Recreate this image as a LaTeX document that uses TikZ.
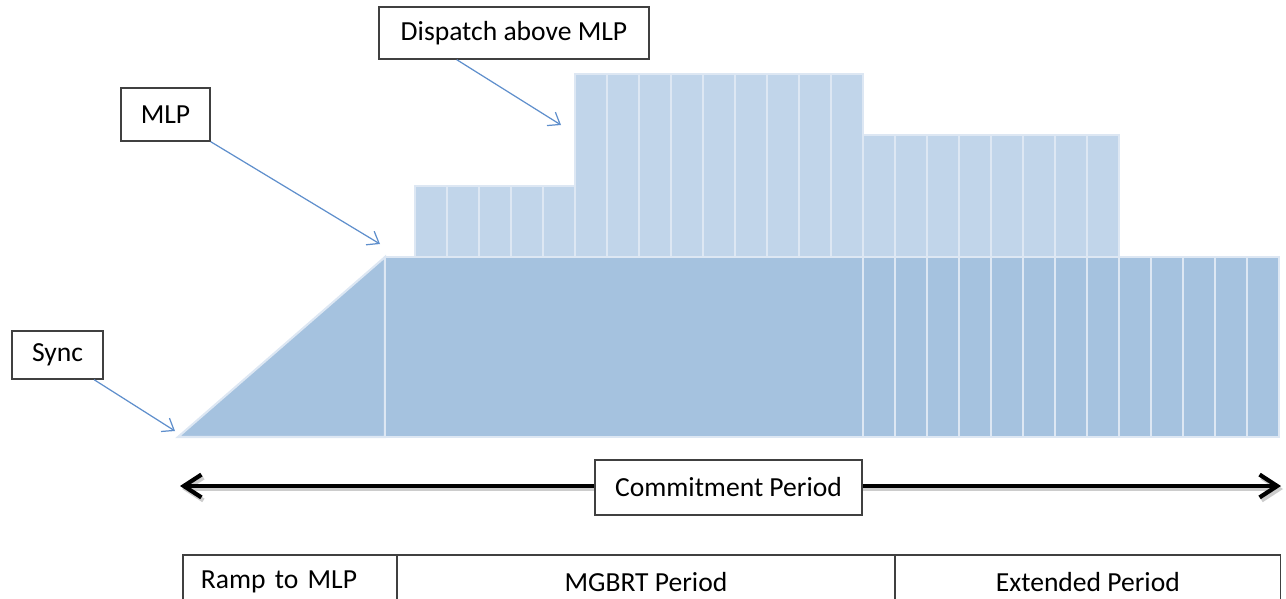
\documentclass[tikz,border=0pt]{standalone}
\usepackage{fontspec}
\setmainfont{Carlito}
\usetikzlibrary{positioning, calc, arrows.meta}

\definecolor{basefill}{RGB}{165,194,223}
\definecolor{topfill}{RGB}{193,213,234}
\definecolor{celledge}{RGB}{221,231,243}
\definecolor{callout}{RGB}{95,143,204}
\definecolor{boxedge}{RGB}{64,64,64}

\begin{document}
\begin{tikzpicture}[
    x=0.02cm, y=-0.02cm,
    callbox/.style={rectangle, draw=boxedge, line width=0.8pt, fill=white, inner sep=2pt, font=\fontsize{15.7}{18}\selectfont},
    block/.style={fill=#1, draw=celledge, line width=1.2pt},
    pointer/.style={-{Straight Barb[length=6pt, width=9pt]}, draw=callout, line width=0.7pt},
    spanarrow/.style={{Straight Barb[length=10pt, width=13pt]}-{Straight Barb[length=10pt, width=13pt]}, line width=2.4pt},
    period/.style={rectangle, draw=boxedge, line width=0.8pt, outer sep=0pt, minimum height=1.08cm, inner sep=0pt, font=\fontsize{15.7}{18}\selectfont}
]
    \clip (0,0) rectangle (1286,599);

    % base load up to MLP
    \draw[block=basefill] (178,437) -- (385,257) -- (385,437) -- cycle;
    \draw[block=basefill] (385,257) rectangle (863,437);
    \foreach \x in {0,...,12}
        \draw[block=basefill] (863+32*\x,257) rectangle (895+32*\x,437);

    % dispatch above MLP
    \foreach \x in {0,...,4}
        \draw[block=topfill] (415+32*\x,186) rectangle (447+32*\x,257);
    \foreach \x in {0,...,8}
        \draw[block=topfill] (575+32*\x,74) rectangle (607+32*\x,257);
    \foreach \x in {0,...,7}
        \draw[block=topfill] (863+32*\x,135) rectangle (895+32*\x,257);

    \node[callbox, minimum width=5.4cm, minimum height=1.04cm] (dispatch) at (514,33) {Dispatch above MLP};
    \node[callbox, minimum width=1.78cm, minimum height=1.06cm] (mlp) at (165.5,114.5) {MLP};
    \node[callbox, minimum width=1.82cm, minimum height=0.96cm] (sync) at (57.5,355) {Sync};

    \coordinate (dispatchtip) at (561,125);
    \coordinate (mlptip) at (380,244);
    \coordinate (synctip) at (175,431);
    \draw[pointer] (dispatch.205) -- (dispatchtip);
    \draw[pointer] (mlp.south east) -- (mlptip);
    \draw[pointer] (sync.-34) -- (synctip);

    % commitment period
    \coordinate (spanleft) at (180,486);
    \coordinate (spanright) at (1281,486);
    \draw[spanarrow, black!20] ($(spanleft)+(2,3)$) -- ($(spanright)+(2,3)$);
    \draw[spanarrow] (spanleft) -- (spanright);
    \node[callbox, minimum width=5.34cm, minimum height=1.1cm] (commit) at (728.5,487.5) {Commitment Period};

    \node[period, anchor=north west, minimum width=4.28cm, text width=3.56cm] (ramp) at (183,555) {Ramp to MLP\hfill};
    \node[period, minimum width=9.96cm, right=0pt of ramp] (mgbrt) {MGBRT Period};
    \node[period, minimum width=7.72cm, right=0pt of mgbrt] (extended) {Extended Period};
\end{tikzpicture}
\end{document}
